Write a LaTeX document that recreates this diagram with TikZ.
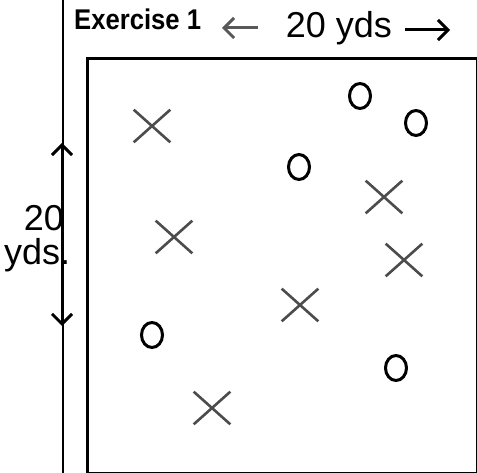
\documentclass[tikz,border=0pt]{standalone}
\usepackage{fontspec}
\setmainfont{Liberation Sans}
\usetikzlibrary{shapes.misc,shapes.geometric,arrows.meta}
\begin{document}
\begin{tikzpicture}[x=1pt,y=-1pt,
  frame/.style={line width=2.6pt,black},
  xmark/.style={cross out,draw,line width=2.6pt,draw=black!70,minimum width=34pt,minimum height=30pt,inner sep=0pt},
  omark/.style={ellipse,draw,line width=3pt,minimum width=21pt,minimum height=25pt,inner sep=0pt},
  hand/.style={line width=3pt,-{Straight Barb[length=10pt,width=20pt,line width=3pt]}},
  handtext/.style={font=\fontsize{36}{38}\selectfont,inner sep=0pt}]
\useasboundingbox (0,0) rectangle (477,473);
\fill[white] (0,0) rectangle (477,473);
% frames
\coordinate (ft) at (63,0);
\coordinate (fb) at (63,473);
\draw[frame] (ft) -- (fb);
\node[draw,line width=2.6pt,minimum width=390pt,minimum height=415pt,inner sep=0pt,anchor=north west] (field) at (86,57) {};
% title
\node[font=\bfseries\fontsize{28.5}{30}\selectfont,anchor=base west,inner sep=0pt] (title) at (74,30) {\scalebox{0.9}[1]{Exercise 1}};
% top dimension
\node[handtext,anchor=base] (tw) at (339,38) {20 yds};
\coordinate (la) at (258,28);
\coordinate (lb) at (222,28);
\coordinate (ra) at (405,30);
\coordinate (rb) at (450,30);
\draw[hand,draw=black!65] (la) -- (lb);
\draw[hand] (ra) -- (rb);
% left dimension
\coordinate (vt) at (62,143);
\coordinate (vb) at (62,326);
\coordinate (vm) at (62,234);
\draw[hand] (vm) -- (vt);
\draw[hand] (vm) -- (vb);
\node[handtext,anchor=base east] (vt1) at (64,231) {20};
\node[handtext,anchor=base west] (vt2) at (4,265) {yds.};
% X marks
\node[xmark] (x1) at (152,126) {};
\node[xmark] (x2) at (174,237) {};
\node[xmark] (x3) at (384,197) {};
\node[xmark] (x4) at (404,260) {};
\node[xmark] (x5) at (300,305) {};
\node[xmark] (x6) at (212,408) {};
% O marks
\node[omark] (o1) at (360,96) {};
\node[omark] (o2) at (416,123) {};
\node[omark] (o3) at (299,167) {};
\node[omark] (o4) at (152,335) {};
\node[omark] (o5) at (396,368) {};
\end{tikzpicture}
\end{document}
